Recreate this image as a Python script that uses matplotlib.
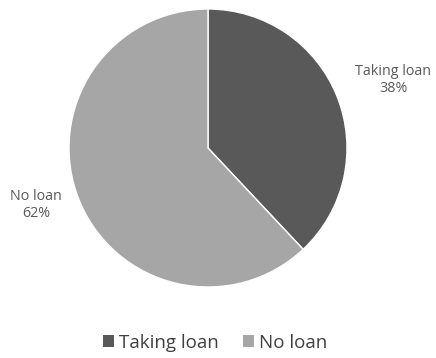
import matplotlib.pyplot as plt
from matplotlib.patches import Patch

# ---------------- DATA ---------------- #

labels = ["Taking loan", "No loan"]
shares = [38, 62]
colors = ["#595959", "#a6a6a6"]

plt.rcParams["font.family"] = ["Open Sans", "DejaVu Sans"]

W, H = 436, 358
fig = plt.figure(figsize=(W / 100, H / 100), dpi=100)
fig.patch.set_facecolor("white")

# pie axes: center (208, 148) px, radius ~139 px
cx, cy, r = 208, 148, 139
ax = fig.add_axes([(cx - r) / W, (H - cy - r) / H, 2 * r / W, 2 * r / H])

ax.pie(
    shares,
    colors=colors,
    startangle=90,
    counterclock=False,
    radius=1.0,
    wedgeprops={"edgecolor": "white", "linewidth": 1}
)
ax.set_xlim(-1, 1)
ax.set_ylim(-1, 1)
ax.set_aspect("auto")

# data labels
fig.text(393 / W, 1 - 80 / H, f"{labels[0]}\n{shares[0]}%",
         ha="center", va="center", fontsize=10.3, color="#595959",
         linespacing=1.2)
fig.text(36 / W, 1 - 205 / H, f"{labels[1]}\n{shares[1]}%",
         ha="center", va="center", fontsize=10.3, color="#595959",
         linespacing=1.2)

# legend
handles = [Patch(facecolor=c, edgecolor="none") for c in colors]
fig.legend(
    handles, labels,
    loc="center",
    bbox_to_anchor=(215 / W, 1 - 343 / H),
    ncol=2,
    frameon=False,
    fontsize=13.5,
    handlelength=0.6,
    handleheight=0.6,
    handletextpad=0.25,
    columnspacing=1.3,
    labelcolor="#404040"
)

plt.savefig("out.png", dpi=100)
